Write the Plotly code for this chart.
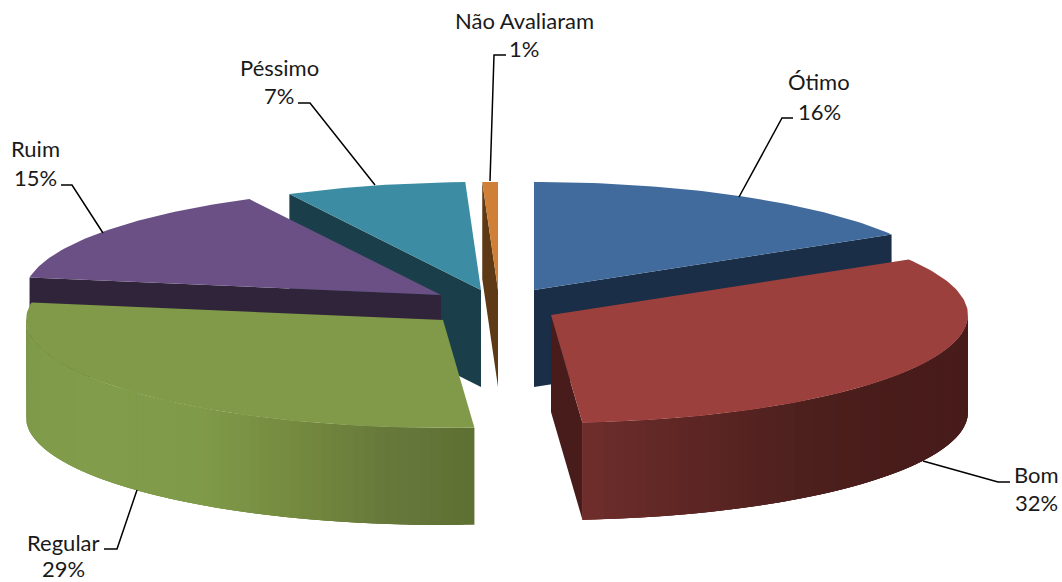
import math
import plotly.graph_objects as go

categories = ["Ótimo", "Bom", "Regular", "Ruim", "Péssimo", "Não Avaliaram"]
values = [16.4, 32.4, 28.8, 14.8, 7.0, 0.6]

# --- styling / layout only ---
RX, RY, DEPTH = 417, 108, 97
APEX = [(534, 290), (551, 315), (443, 320), (441, 295), (481, 290), (498, 290)]
TOP = ["#416B9C", "#9C403D", "#809A49", "#6A5085", "#3C8DA3", "#D08036"]
EDGE = ["#1A2E47", "#481C1A", "#5F7033", "#2F2439", "#1B3F4A", "#5D3915"]
SIDE_STOPS = {
    1: [(90, "#481C1A"), (125, "#481C1A"), (143, "#4D201E"), (162, "#5F2725"), (176, "#6F2E2C")],
    2: [(176, "#5F7033"), (186, "#65773A"), (200, "#74893F"), (215, "#7F9A48"),
        (235, "#819C4A"), (262, "#7F9A49"), (270, "#7A9549")],
}
DRAW_ORDER = [0, 5, 4, 3, 1, 2]
LABEL_POS = {0: (819, 81, 111), 1: (1036, 474, 502), 2: (63, 542, 568),
             3: (35, 148, 177), 4: (279, 67, 95), 5: (524, 20, 48)}
LEADERS = {0: ([793, 782, 739], [118, 118, 197]), 1: ([1010, 998, 923], [482, 482, 461]),
           2: ([104, 117, 137], [549, 549, 490]), 3: ([61, 72, 103], [185, 185, 233]),
           4: ([298, 310, 375], [103, 103, 185]), 5: ([506, 494, 490], [55, 55, 181])}
FONT = dict(family="Lato, Carlito, sans-serif", size=22, color="#1a1a1a")

total = sum(values)
edges = [0.0]
for v in values:
    edges.append(edges[-1] + v / total * 360)


def pt(i, deg, drop=0):
    a = math.radians(deg)
    return APEX[i][0] + RX * math.sin(a), APEX[i][1] - RY * math.cos(a) + drop


def hex2rgb(h):
    return tuple(int(h[k:k + 2], 16) for k in (1, 3, 5))


def side_colour(i, deg):
    stops = SIDE_STOPS.get(i)
    if not stops:
        return EDGE[i]
    for (a0, c0), (a1, c1) in zip(stops, stops[1:]):
        if a0 <= deg <= a1:
            t = (deg - a0) / (a1 - a0)
            r = [round(p + (q - p) * t) for p, q in zip(hex2rgb(c0), hex2rgb(c1))]
            return "rgb(%d,%d,%d)" % tuple(r)
    return stops[-1][1]


def poly(xs, ys, colour, lw=0.0):
    return go.Scatter(x=xs + xs[:1], y=ys + ys[:1], mode="lines", fill="toself", fillcolor=colour,
                      line=dict(color=colour, width=lw), hoverinfo="skip", showlegend=False)


fig = go.Figure()
for i in DRAW_ORDER:
    a0, a1 = edges[i], edges[i + 1]
    ax, ay = APEX[i]
    # visible radial wall
    radial = a1 if a1 < 180 else (a0 if a0 > 180 else None)
    if radial is not None:
        ex, ey = pt(i, radial)
        fig.add_trace(poly([ax, ex, ex, ax], [ay, ey, ey + DEPTH, ay + DEPTH], EDGE[i]))
    # outer wall, in overlapping strips for the shading
    lo, hi = max(a0, 90), min(a1, 270)
    if lo < hi:
        n = max(2, int((hi - lo) / 1.5))
        for k in range(n):
            d0 = lo + (hi - lo) * k / n
            d1 = min(hi, lo + (hi - lo) * (k + 1) / n + 3)
            m = 4
            arc = [pt(i, d0 + (d1 - d0) * q / m) for q in range(m + 1)]
            xs = [p[0] for p in arc]
            ys = [p[1] for p in arc]
            fig.add_trace(poly(xs + xs[::-1], ys + [y + DEPTH for y in ys[::-1]],
                               side_colour(i, d0 + (hi - lo) / n / 2)))
    # top face
    n = max(4, int((a1 - a0) / 1.0))
    arc = [pt(i, a0 + (a1 - a0) * k / n) for k in range(n + 1)]
    fig.add_trace(poly([ax] + [p[0] for p in arc], [ay] + [p[1] for p in arc], TOP[i]))

for i in range(len(values)):
    lx, ly = LEADERS[i]
    fig.add_trace(go.Scatter(x=lx, y=ly, mode="lines", line=dict(color="#000000", width=1.5),
                             hoverinfo="skip", showlegend=False))
    tx, y1, y2 = LABEL_POS[i]
    for text, y in ((categories[i], y1), ("%d%%" % max(1, round(values[i])), y2)):
        fig.add_annotation(x=tx, y=y, text=text, showarrow=False, font=FONT, borderpad=0,
                           xanchor="center", yanchor="middle", xref="x", yref="y")

fig.update_layout(
    width=1062, height=582, margin=dict(l=0, r=0, t=0, b=0),
    paper_bgcolor="white", plot_bgcolor="white", showlegend=False,
    xaxis=dict(range=[0, 1062], visible=False, fixedrange=True),
    yaxis=dict(range=[582, 0], visible=False, fixedrange=True),
)
fig.write_html("out.html", config={"displayModeBar": False},
               post_script="document.body.style.margin='0';document.body.style.overflow='hidden';")
